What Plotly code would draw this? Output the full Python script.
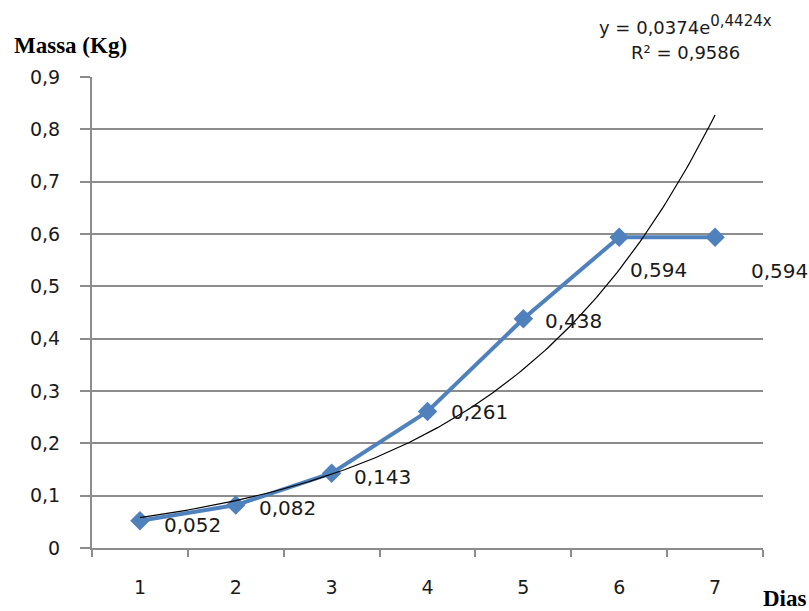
import numpy as np
import plotly.graph_objects as go

# Daily mass measurements
dias = [1, 2, 3, 4, 5, 6, 7]
massa = [0.052, 0.082, 0.143, 0.261, 0.438, 0.594, 0.594]
rotulos = ["0,052", "0,082", "0,143", "0,261", "0,438", "0,594", "0,594"]

# Exponential trendline y = a * e^(b x)
coef_a = 0.0374
coef_b = 0.4424

y_ticks = [0, 0.1, 0.2, 0.3, 0.4, 0.5, 0.6, 0.7, 0.8, 0.9]
y_tick_text = ["0", "0,1", "0,2", "0,3", "0,4", "0,5", "0,6", "0,7", "0,8", "0,9"]

# label offsets (pixels) relative to each marker
lab_dx = [22, 21, 20, 21, 20, 9, 34]
lab_dy = [-4, -3, -4, -1, -2, -33, -34]

x_trend = np.linspace(dias[0], dias[-1], 200)
y_trend = coef_a * np.exp(coef_b * x_trend)

fig = go.Figure()

fig.add_trace(go.Scatter(
    x=dias, y=massa, mode="lines+markers",
    line=dict(color="#4F81BD", width=4),
    marker=dict(symbol="diamond", size=15, color="#4F81BD"),
    showlegend=False, hoverinfo="skip",
))

fig.add_trace(go.Scatter(
    x=x_trend, y=y_trend, mode="lines",
    line=dict(color="#000000", width=1.2),
    showlegend=False, hoverinfo="skip",
))

for xv, yv, txt, dx, dy in zip(dias, massa, rotulos, lab_dx, lab_dy):
    fig.add_annotation(
        x=xv, y=yv, text=txt, showarrow=False,
        xanchor="left", yanchor="middle",
        xshift=dx, yshift=dy,
        font=dict(family="DejaVu Sans", size=20, color="#1a1a1a"),
    )

fig.add_annotation(
    xref="paper", yref="paper", x=0.885, y=1.0, yshift=52,
    text="y = 0,0374e<sup><span style='font-size:15px'>0,4424x</span></sup>",
    showarrow=False, xanchor="center", yanchor="middle",
    font=dict(family="DejaVu Sans", size=18, color="#1a1a1a"),
)
fig.add_annotation(
    xref="paper", yref="paper", x=0.885, y=1.0, yshift=25,
    text="R² = 0,9586", showarrow=False,
    xanchor="center", yanchor="middle",
    font=dict(family="DejaVu Sans", size=18, color="#1a1a1a"),
)

fig.add_annotation(
    xref="paper", yref="paper", x=0, y=1.0, xshift=-80, yshift=32,
    text="<b>Massa (Kg)</b>", showarrow=False,
    xanchor="left", yanchor="middle",
    font=dict(family="Liberation Serif", size=23, color="#000000"),
)
fig.add_annotation(
    xref="paper", yref="paper", x=1.0, y=0, xshift=-2, yshift=-50,
    text="<b>Dias</b>", showarrow=False,
    xanchor="left", yanchor="middle",
    font=dict(family="Liberation Serif", size=23, color="#000000"),
)

fig.update_layout(
    width=809, height=611,
    margin=dict(l=92, r=46, t=77, b=63),
    paper_bgcolor="white", plot_bgcolor="white",
    font=dict(family="DejaVu Sans", size=19, color="#1a1a1a"),
    xaxis=dict(
        range=[0.5, 7.5], tickmode="array", tickvals=dias,
        ticktext=[str(d) for d in dias],
        ticks="", showgrid=False, zeroline=False,
        showline=True, linecolor="#8c8c8c", linewidth=2,
        ticklabelstandoff=21,
        minor=dict(tickmode="array", tickvals=[0.5 + i for i in range(8)],
                   ticks="outside", ticklen=7, tickcolor="#8c8c8c",
                   tickwidth=2, showgrid=False),
    ),
    yaxis=dict(
        range=[0, 0.9], tickmode="array", tickvals=y_ticks,
        ticktext=y_tick_text,
        ticks="outside", ticklen=10, tickcolor="#8c8c8c", tickwidth=2,
        showgrid=True, gridcolor="#8c8c8c", gridwidth=1.5,
        zeroline=False, showline=True, linecolor="#8c8c8c", linewidth=2,
        ticklabelstandoff=16,
    ),
)

fig.write_html("out.html")
